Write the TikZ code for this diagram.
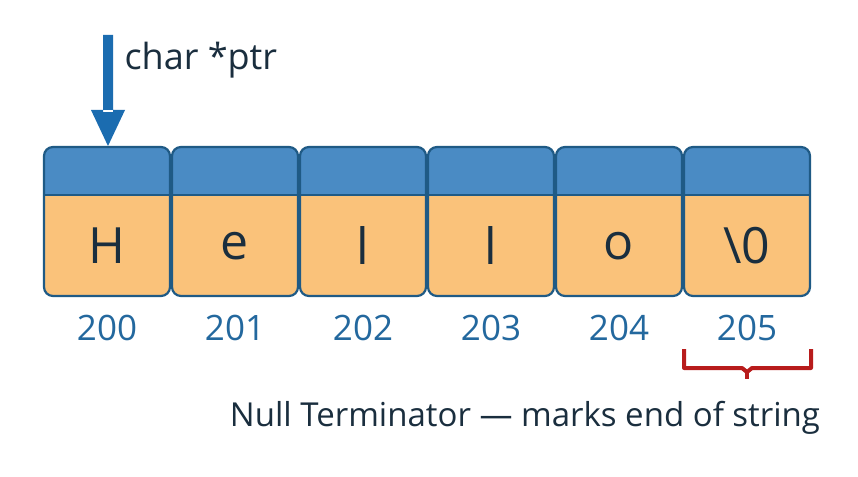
\documentclass[tikz,border=0pt]{standalone}
\usepackage{fontspec}
\setmainfont{Open Sans}
\definecolor{topb}{HTML}{4A8BC4}
\definecolor{bot}{HTML}{FAC27A}
\definecolor{edge}{HTML}{1F5A85}
\definecolor{lab}{HTML}{23689E}
\definecolor{txt}{HTML}{1A2E3E}
\definecolor{brk}{HTML}{B81C1C}
\definecolor{arr}{HTML}{1B6CB0}
\begin{document}
\begin{tikzpicture}[x=1pt,y=-1pt,
  cell/.style={draw=edge,line width=2.2pt,rounded corners=9pt},
  ch/.style={font=\fontsize{50}{52}\selectfont,text=txt},
  addr/.style={font=\fontsize{35}{37}\selectfont,text=lab}]
\useasboundingbox[fill=white] (0,0) rectangle (858,476);
\foreach \i/\c/\a in {0/H/200,1/e/201,2/l/202,3/l/203,4/o/204,5/\textbackslash 0/205}{
  \pgfmathsetmacro\xl{44+128*\i}
  \pgfmathsetmacro\xr{\xl+126}
  \begin{scope}
    \clip[rounded corners=9pt] (\xl,147) rectangle (\xr,296);
    \fill[bot] (\xl,147) rectangle (\xr,296);
    \fill[topb] (\xl,147) rectangle (\xr,195);
  \end{scope}
  \draw[edge,line width=2.2pt] (\xl,195) -- (\xr,195);
  \draw[cell] (\xl,147) rectangle (\xr,296);
  \node[ch] (c\i) at ({\xl+63},246) {\c};
  \node[addr] (a\i) at ({\xl+63},328) {\a};
}
\fill[arr] (103,35) rectangle (113,112) (91,110) -- (125,110) -- (108,146) -- cycle;
\node[font=\fontsize{36}{38}\selectfont,text=txt,anchor=west] (ptr) at (121,60) {char *ptr};
\draw[brk,line width=4pt,line join=round] (684,349) -- (684,368) -- (742,368) -- (747,372) -- (752,368) -- (811,368) -- (811,349);
\draw[brk,line width=4pt] (747,370) -- (747,379);
\node[font=\fontsize{33}{35}\selectfont,text=txt] (nt) at (525,418) {Null Terminator — marks end of string};
\end{tikzpicture}
\end{document}
